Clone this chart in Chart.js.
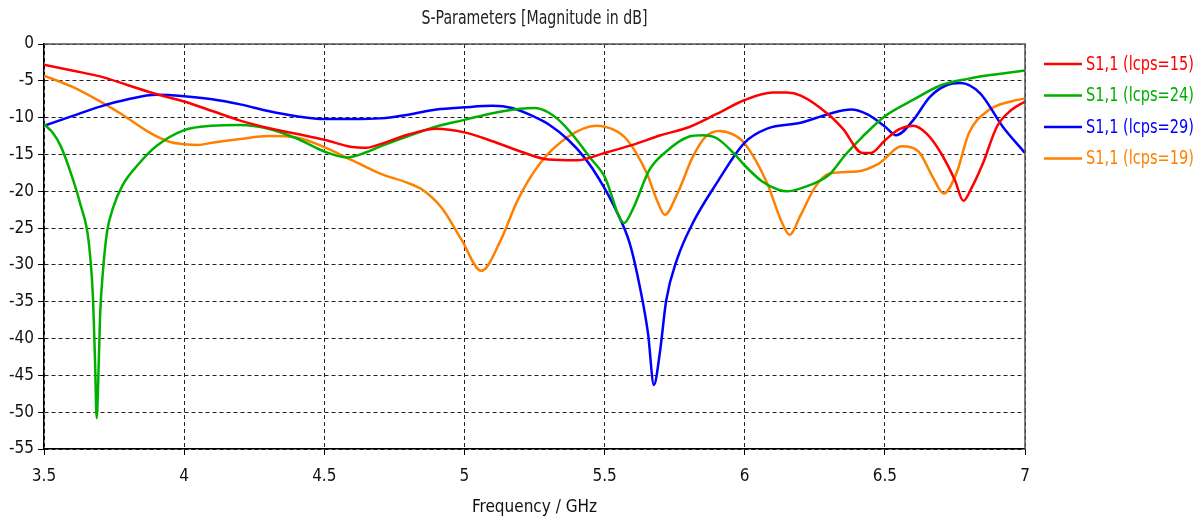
<!DOCTYPE html>
<html>
<head>
<meta charset="utf-8">
<script src="https://cdn.jsdelivr.net/npm/chart.js@4.4.0/dist/chart.umd.min.js"></script>
<style>
  html, body { margin: 0; padding: 0; background: #fff; }
  #wrap { width: 1203px; height: 522px; }
</style>
</head>
<body>
<div id="wrap"><canvas id="sparamChart" width="1203" height="522"></canvas></div>
<script>
// 값 - 그림에서 읽은 값 (GHz, dB)
const f15 = [3.5, 3.6, 3.7, 3.8, 3.9, 4.0, 4.1, 4.2, 4.3, 4.4, 4.5, 4.6, 4.65, 4.7, 4.8, 4.9, 5.0, 5.1, 5.2, 5.3, 5.4, 5.5, 5.6, 5.7, 5.8, 5.9, 6.0, 6.1, 6.15, 6.2, 6.3, 6.35, 6.42, 6.45, 6.5, 6.55, 6.6, 6.65, 6.7, 6.75, 6.78, 6.81, 6.85, 6.9, 6.95, 7.0];
const s15 = [-2.8, -3.6, -4.4, -5.6, -6.8, -7.8, -9.1, -10.4, -11.4, -12.2, -13.0, -14.0, -14.1, -13.6, -12.3, -11.5, -12.0, -13.2, -14.6, -15.7, -15.8, -14.8, -13.7, -12.4, -11.3, -9.5, -7.6, -6.6, -6.6, -7.0, -9.6, -11.5, -14.8, -14.8, -13.1, -11.6, -11.1, -12.2, -14.8, -18.5, -21.3, -19.5, -16.2, -11.2, -9.0, -7.8];

const f24 = [3.5, 3.53, 3.56, 3.6, 3.63, 3.66, 3.675, 3.682, 3.688, 3.693, 3.7, 3.71, 3.725, 3.746, 3.78, 3.84, 3.9, 4.0, 4.1, 4.2, 4.3, 4.4, 4.5, 4.58, 4.65, 4.7, 4.8, 4.9, 5.0, 5.1, 5.2, 5.25, 5.3, 5.35, 5.4, 5.45, 5.5, 5.57, 5.6, 5.66, 5.72, 5.8, 5.85, 5.9, 5.96, 6.0, 6.06, 6.12, 6.15, 6.2, 6.3, 6.36, 6.42, 6.5, 6.6, 6.7, 6.8, 6.9, 7.0];
const s24 = [-10.9, -12.0, -13.9, -18.0, -21.8, -27.0, -34.7, -43.0, -50.8, -46.5, -37.0, -31.0, -25.5, -22.3, -19.2, -16.2, -13.9, -11.7, -11.1, -11.0, -11.5, -12.8, -14.6, -15.4, -14.7, -13.9, -12.5, -11.2, -10.3, -9.4, -8.8, -8.7, -9.3, -10.8, -13.0, -15.5, -18.0, -24.3, -22.5, -17.1, -14.6, -12.6, -12.4, -12.8, -14.8, -16.5, -18.6, -19.8, -20.0, -19.6, -17.8, -15.0, -12.6, -9.8, -7.6, -5.6, -4.7, -4.1, -3.6];

const f29 = [3.5, 3.6, 3.7, 3.8, 3.9, 4.0, 4.1, 4.2, 4.3, 4.4, 4.5, 4.6, 4.7, 4.8, 4.9, 5.0, 5.1, 5.17, 5.25, 5.3, 5.37, 5.43, 5.48, 5.54, 5.59, 5.626, 5.655, 5.676, 5.697, 5.72, 5.758, 5.815, 5.9, 6.0, 6.08, 6.2, 6.3, 6.38, 6.44, 6.5, 6.54, 6.6, 6.66, 6.72, 6.77, 6.84, 6.92, 7.0];
const s29 = [-11.1, -9.8, -8.5, -7.5, -6.9, -7.1, -7.5, -8.2, -9.1, -9.8, -10.2, -10.2, -10.1, -9.6, -8.9, -8.6, -8.4, -8.7, -9.9, -10.9, -13.0, -15.5, -18.3, -22.5, -27.1, -33.0, -39.3, -46.3, -42.0, -34.8, -29.3, -24.3, -18.9, -13.4, -11.5, -10.7, -9.5, -8.9, -9.6, -11.2, -12.4, -10.4, -7.2, -5.6, -5.3, -6.7, -11.2, -14.8];

const f19 = [3.5, 3.6, 3.7, 3.78, 3.88, 3.95, 4.0, 4.05, 4.1, 4.2, 4.3, 4.4, 4.5, 4.6, 4.7, 4.8, 4.85, 4.92, 4.99, 5.06, 5.13, 5.19, 5.27, 5.37, 5.47, 5.53, 5.58, 5.65, 5.69, 5.715, 5.76, 5.815, 5.86, 5.91, 5.96, 6.0, 6.08, 6.13, 6.16, 6.2, 6.25, 6.3, 6.4, 6.48, 6.56, 6.62, 6.67, 6.71, 6.755, 6.8, 6.87, 6.95, 7.0];
const s19 = [-4.3, -5.8, -7.8, -9.6, -12.1, -13.3, -13.6, -13.7, -13.4, -12.9, -12.5, -12.7, -14.0, -15.8, -17.6, -18.9, -19.8, -22.3, -26.6, -30.8, -26.6, -21.2, -16.2, -12.6, -11.1, -11.6, -13.0, -17.5, -21.5, -23.2, -20.3, -15.3, -12.6, -11.8, -12.3, -13.5, -18.9, -24.0, -25.9, -23.2, -19.5, -17.6, -17.3, -16.2, -13.9, -14.6, -18.0, -20.3, -17.6, -12.1, -9.0, -7.8, -7.4];

const seriesLabels = ['S1,1 (lcps=15)', 'S1,1 (lcps=24)', 'S1,1 (lcps=29)', 'S1,1 (lcps=19)'];
const seriesColors = ['#ff0000', '#00b000', '#0000ff', '#ff8000'];
const xTicks = [3.5, 4, 4.5, 5, 5.5, 6, 6.5, 7];
const yTicks = [0, -5, -10, -15, -20, -25, -30, -35, -40, -45, -50, -55];

const FONT = "'DejaVu Sans Condensed', 'DejaVu Sans', sans-serif";

function toPoints(xs, ys) {
    return xs.map((x, i) => ({ x: x, y: ys[i] }));
}

const allSeries = [[f15, s15], [f24, s24], [f29, s29], [f19, s19]];

const datasets = allSeries.map((pair, index) => ({
    label: seriesLabels[index],
    data: toPoints(pair[0], pair[1]),
    borderColor: seriesColors[index],
    backgroundColor: seriesColors[index],
    borderWidth: 2.5,
    pointRadius: 0,
    fill: false,
    cubicInterpolationMode: 'monotone'
}));

// 좁은 글씨 - 가로로 눌러서 그리기
function narrowText(ctx, text, x, y, width, align) {
    const w = ctx.measureText(text).width;
    const sx = Math.min(1, width / w);
    ctx.save();
    ctx.translate(x, y);
    ctx.scale(sx, 1);
    ctx.textAlign = align;
    ctx.fillText(text, 0, 0);
    ctx.restore();
}

// 제목, 테두리, 범례 그리기
const decorPlugin = {
    id: 'decor',
    afterDraw(chart) {
        const ctx = chart.ctx;
        const area = chart.chartArea;
        ctx.save();

        ctx.strokeStyle = '#555';
        ctx.lineWidth = 1.5;
        ctx.beginPath();
        ctx.moveTo(area.left, area.top);
        ctx.lineTo(area.right, area.top);
        ctx.lineTo(area.right, area.bottom);
        ctx.stroke();

        ctx.fillStyle = '#222';
        ctx.font = '19px ' + FONT;
        ctx.textBaseline = 'middle';
        narrowText(ctx, 'S-Parameters [Magnitude in dB]', (area.left + area.right) / 2, 19, 226, 'center');

        ctx.font = '19px ' + FONT;
        chart.data.datasets.forEach((ds, i) => {
            const y = 64 + i * 31.5;
            ctx.strokeStyle = ds.borderColor;
            ctx.lineWidth = 2.5;
            ctx.beginPath();
            ctx.moveTo(1044, y);
            ctx.lineTo(1082, y);
            ctx.stroke();
            ctx.fillStyle = ds.borderColor;
            narrowText(ctx, ds.label, 1086, y + 1, 108, 'left');
        });
        ctx.restore();
    }
};

const gridOpts = {
    color: '#222',
    lineWidth: 1,
    tickLength: 6,
    tickColor: '#000',
    tickBorderDash: [6, 0]
};

new Chart(document.getElementById('sparamChart').getContext('2d'), {
    type: 'line',
    data: { datasets: datasets },
    options: {
        responsive: false,
        animation: false,
        events: [],
        layout: { padding: { left: 0, top: 44, right: 178, bottom: 0 } },
        plugins: {
            legend: { display: false },
            title: { display: false },
            tooltip: { enabled: false }
        },
        scales: {
            x: {
                type: 'linear',
                min: 3.5,
                max: 7,
                afterFit: (scale) => { scale.height = 73; },
                afterBuildTicks: (scale) => { scale.ticks = xTicks.map(v => ({ value: v })); },
                grid: gridOpts,
                border: { display: true, color: '#000', width: 1.5, dash: [4, 3] },
                ticks: {
                    color: '#111',
                    padding: 11,
                    maxRotation: 0,
                    font: { family: FONT, size: 17 },
                    callback: (value) => String(value)
                },
                title: {
                    display: true,
                    text: 'Frequency / GHz',
                    color: '#111',
                    font: { family: FONT, size: 17 },
                    padding: { top: 0, bottom: 4 }
                }
            },
            y: {
                type: 'linear',
                min: -55,
                max: 0,
                afterFit: (scale) => { scale.width = 44; },
                afterBuildTicks: (scale) => { scale.ticks = yTicks.map(v => ({ value: v })); },
                grid: gridOpts,
                border: { display: true, color: '#000', width: 1.5, dash: [4, 3] },
                ticks: {
                    color: '#111',
                    padding: 4,
                    font: { family: FONT, size: 17 },
                    callback: (value) => String(value)
                }
            }
        }
    },
    plugins: [decorPlugin]
});
</script>
</body>
</html>
